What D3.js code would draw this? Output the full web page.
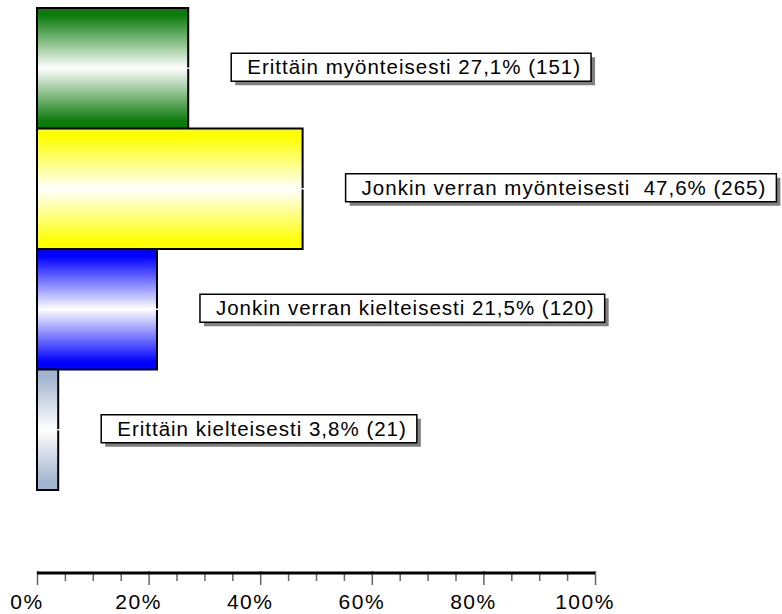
<!DOCTYPE html>
<html>
<head>
<meta charset="utf-8">
<script src="https://cdn.jsdelivr.net/npm/d3@7"></script>
<style>
  html, body { margin: 0; padding: 0; background: #fff; }
  svg { display: block; }
  text { font-family: "Liberation Sans", Arial, sans-serif; }
</style>
</head>
<body>
<svg id="chart" width="782" height="614"></svg>
<script>
// ---- data ----
const categories = ["Erittäin myönteisesti", "Jonkin verran myönteisesti", "Jonkin verran kielteisesti", "Erittäin kielteisesti"];
const percents = [27.1, 47.6, 21.5, 3.8];
const counts = [151, 265, 120, 21];
const labelSeparators = [" ", "  ", " ", " "];
const colors = ["#0b7b0b", "#ffff00", "#0000ff", "#a2b4cf"];
const tickValues = [0, 20, 40, 60, 80, 100];
const minorTickValues = [5, 10, 15, 25, 30, 35, 45, 50, 55, 65, 70, 75, 85, 90, 95];

const svg = d3.select("#chart");
const x = d3.scaleLinear().domain([0, 100]).range([37, 595]);
const y = d3.scaleBand().domain(categories).range([8, 490]).padding(0);

// gradients
const defs = svg.append("defs");
colors.forEach((c, i) => {
  const g = defs.append("linearGradient").attr("id", "grad" + i)
    .attr("x1", 0).attr("y1", 0).attr("x2", 0).attr("y2", 1);
  g.append("stop").attr("offset", "0%").attr("stop-color", c);
  g.append("stop").attr("offset", "6%").attr("stop-color", c);
  g.append("stop").attr("offset", "50%").attr("stop-color", "#ffffff");
  g.append("stop").attr("offset", "94%").attr("stop-color", c);
  g.append("stop").attr("offset", "100%").attr("stop-color", c);
});

const data = categories.map((c, i) => ({
  cat: c, pct: percents[i], n: counts[i], i,
  label: c + labelSeparators[i] + d3.format(".1f")(percents[i]).replace(".", ",") + "% (" + counts[i] + ")"
}));

// bars
svg.append("g").selectAll("rect").data(data).join("rect")
  .attr("x", x(0))
  .attr("y", d => y(d.cat))
  .attr("width", d => x(d.pct) - x(0))
  .attr("height", y.bandwidth())
  .attr("fill", d => "url(#grad" + d.i + ")")
  .attr("stroke", "#000")
  .attr("stroke-width", 2);

// small mark at bar end
svg.append("g").selectAll("line").data(data).join("line")
  .attr("x1", d => x(d.pct) - 1).attr("x2", d => x(d.pct) + 2)
  .attr("y1", d => y(d.cat) + y.bandwidth() / 2)
  .attr("y2", d => y(d.cat) + y.bandwidth() / 2)
  .attr("stroke", "#fff").attr("stroke-width", 1.5);

// labels
const lg = svg.append("g").selectAll("g").data(data).join("g");
lg.each(function(d) {
  const g = d3.select(this);
  const cy = y(d.cat) + y.bandwidth() / 2 - 1;
  const bx = x(d.pct) + 43;
  const shadow = g.append("rect");
  const box = g.append("rect");
  const t = g.append("text")
    .attr("x", bx + 16)
    .attr("y", cy + 7)
    .attr("font-size", "20.5px")
    .attr("letter-spacing", "1px")
    .attr("fill", "#000")
    .style("white-space", "pre")
    .attr("xml:space", "preserve")
    .text(d.label);
  const w = t.node().getComputedTextLength() + 16 + 10;
  const h = 28;
  shadow.attr("x", bx + 4).attr("y", cy - h / 2 + 4).attr("width", w).attr("height", h)
    .attr("fill", "#808080");
  box.attr("x", bx).attr("y", cy - h / 2).attr("width", w).attr("height", h)
    .attr("fill", "#fff").attr("stroke", "#000").attr("stroke-width", 1.5);
});

// axis
const axisY = 573;
const minorAxis = svg.append("g").attr("transform", `translate(0,${axisY})`)
  .call(d3.axisBottom(x).tickValues(minorTickValues).tickSize(8).tickFormat(""));
minorAxis.select(".domain").remove();
minorAxis.selectAll(".tick line").attr("stroke", "#666").attr("stroke-width", 1.5);

const majorAxis = svg.append("g").attr("transform", `translate(0,${axisY})`)
  .call(d3.axisBottom(x).tickValues(tickValues).tickSize(12).tickPadding(10)
    .tickFormat(d => d + "%"));
majorAxis.select(".domain").remove();
majorAxis.selectAll(".tick line").attr("stroke", "#666").attr("stroke-width", 1.5).attr("y1", -2);
majorAxis.selectAll(".tick text")
  .attr("font-size", "21px")
  .attr("letter-spacing", "1.5px")
  .attr("font-family", "'Liberation Sans', Arial, sans-serif")
  .attr("fill", "#000")
  .attr("dy", null)
  .attr("x", -10.5)
  .attr("y", 36);

svg.append("line")
  .attr("x1", x(0)).attr("x2", x(100))
  .attr("y1", axisY).attr("y2", axisY)
  .attr("stroke", "#000").attr("stroke-width", 3);
</script>
</body>
</html>
